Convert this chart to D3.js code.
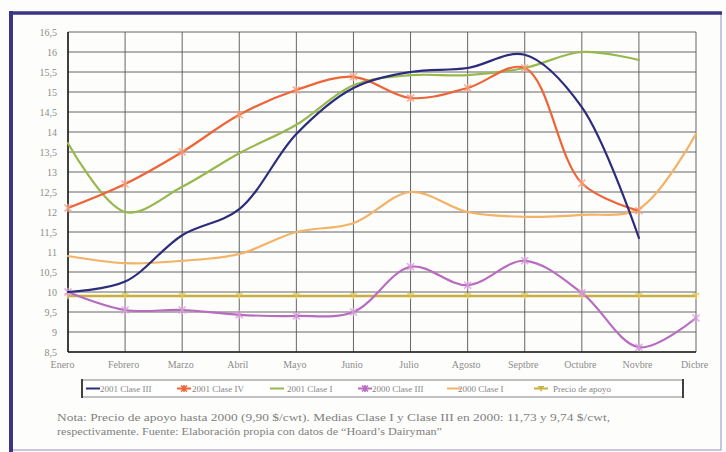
<!DOCTYPE html>
<html>
<head>
<meta charset="utf-8">
<script src="https://cdn.jsdelivr.net/npm/d3@7"></script>
<style>
  html, body { margin: 0; padding: 0; background: #fdfdfb; }
  svg { display: block; }
  text { font-family: "Liberation Serif", "Times New Roman", serif; }
</style>
</head>
<body>
<svg id="chart" width="726" height="452"></svg>
<script>
// Months on the horizontal axis
const months = ["Enero", "Febrero", "Marzo", "Abril", "Mayo", "Junio", "Julio",
                "Agosto", "Septbre", "Octubre", "Novbre", "Dicbre"];

// Milk prices, $/cwt (null = not yet available)
const clase3_2001 = [10.0, 10.26, 11.42, 12.07, 13.95, 15.1, 15.5, 15.6, 15.93, 14.62, 11.35, null];
const clase4_2001 = [12.1, 12.7, 13.5, 14.43, 15.05, 15.38, 14.85, 15.1, 15.6, 12.72, 12.03, null];
const clase1_2001 = [13.72, 12.0, 12.63, 13.47, 14.18, 15.17, 15.42, 15.42, 15.6, 16.0, 15.8, null];
const clase3_2000 = [10.0, 9.55, 9.55, 9.43, 9.4, 9.5, 10.63, 10.17, 10.78, 9.98, 8.62, 9.35];
const clase1_2000 = [10.9, 10.72, 10.78, 10.95, 11.5, 11.72, 12.5, 12.0, 11.88, 11.93, 12.08, 13.95];
const apoyo       = [9.9, 9.9, 9.9, 9.9, 9.9, 9.9, 9.9, 9.9, 9.9, 9.9, 9.9, 9.9];

const yTicks = [8.5, 9, 9.5, 10, 10.5, 11, 11.5, 12, 12.5, 13, 13.5, 14, 14.5, 15, 15.5, 16, 16.5];

const seriesNames = ["2001 Clase III", "2001 Clase IV", "2001 Clase I",
                     "2000 Clase III", "2000 Clase I", "Precio de apoyo"];

const notaLinea1 = "Nota: Precio de apoyo hasta 2000 (9,90 $/cwt). Medias Clase I y Clase III en 2000: 11,73 y 9,74 $/cwt,";
const notaLinea2 = "respectivamente. Fuente: Elaboración propia con datos de \u201CHoard\u2019s Dairyman\u201D";

const series = [
  { name: seriesNames[0], values: clase3_2001, color: "#2c2c7c", width: 2.2, marker: null },
  { name: seriesNames[1], values: clase4_2001, color: "#ee6438", width: 2.2, marker: "star", mcolor: "#f5a080" },
  { name: seriesNames[2], values: clase1_2001, color: "#97b84c", width: 2.2, marker: null },
  { name: seriesNames[3], values: clase3_2000, color: "#b86cbf", width: 2.2, marker: "star", mcolor: "#d9a0dc" },
  { name: seriesNames[4], values: clase1_2000, color: "#f3b266", width: 2.2, marker: null },
  { name: seriesNames[5], values: apoyo,       color: "#c8b040", width: 2.6, marker: "tee", mcolor: "#e8d060" }
];

const svg = d3.select("#chart");

// Outer frame
svg.append("rect").attr("x", 11).attr("y", 13).attr("width", 710).attr("height", 437)
  .attr("fill", "none").attr("stroke", "#a4a4cc").attr("stroke-width", 1.2);
svg.append("line").attr("x1", 11).attr("x2", 722).attr("y1", 13).attr("y2", 13)
  .attr("stroke", "#3b3585").attr("stroke-width", 3.5);
svg.append("line").attr("x1", 11).attr("x2", 11).attr("y1", 11).attr("y2", 452)
  .attr("stroke", "#3b3585").attr("stroke-width", 4);

const plotLeft = 68, plotRight = 696, plotTop = 32, plotBottom = 352;

const x = d3.scalePoint().domain(months).range([plotLeft, plotRight]);
const y = d3.scaleLinear().domain([8.5, 16.5]).range([plotBottom, plotTop]);

const fmt = v => String(v).replace(".", ",");

// Gridlines
const grid = svg.append("g");
grid.selectAll("line.h").data(yTicks).join("line").attr("class", "h")
  .attr("x1", plotLeft).attr("x2", plotRight)
  .attr("y1", d => y(d)).attr("y2", d => y(d))
  .attr("stroke", "#555").attr("stroke-width", 0.9);
grid.selectAll("line.v").data(months).join("line").attr("class", "v")
  .attr("x1", d => x(d)).attr("x2", d => x(d))
  .attr("y1", plotTop).attr("y2", plotBottom)
  .attr("stroke", "#555").attr("stroke-width", 0.9);
// Axis lines
grid.append("line").attr("x1", plotLeft).attr("x2", plotLeft).attr("y1", plotTop).attr("y2", plotBottom)
  .attr("stroke", "#222").attr("stroke-width", 1.6);
grid.append("line").attr("x1", plotLeft).attr("x2", plotRight).attr("y1", plotBottom).attr("y2", plotBottom)
  .attr("stroke", "#222").attr("stroke-width", 1.6);

// Y axis labels
const yAxis = d3.axisLeft(y).tickValues(yTicks).tickSize(0).tickPadding(11).tickFormat(fmt);
const gy = svg.append("g").attr("transform", `translate(${plotLeft},0)`).call(yAxis);
gy.select(".domain").remove();
gy.selectAll("text").attr("font-size", 10).attr("fill", "#8c8c8c")
  .attr("font-family", "Liberation Serif, serif");

// X axis labels
const xAxis = d3.axisBottom(x).tickSize(0).tickPadding(9);
const gx = svg.append("g").attr("transform", `translate(0,${plotBottom})`).call(xAxis);
gx.select(".domain").remove();
gx.selectAll("text").attr("font-size", 10).attr("fill", "#8c8c8c")
  .attr("font-family", "Liberation Serif, serif")
  .attr("dx", (d, i) => i === 0 ? -6 : -2);

// Smoothed series lines (centripetal Catmull-Rom keeps overshoot moderate)
const line = d3.line()
  .defined(d => d.v !== null)
  .x(d => x(d.m))
  .y(d => y(d.v))
  .curve(d3.curveCatmullRom.alpha(0.5));

const plot = svg.append("g");

function drawMarker(g, type, cx, cy, color, s) {
  if (type === "star") {
    g.append("path")
      .attr("d", `M${cx - s},${cy - s}L${cx + s},${cy + s}M${cx - s},${cy + s}L${cx + s},${cy - s}M${cx},${cy - s * 1.2}L${cx},${cy + s * 1.2}`)
      .attr("stroke", color).attr("stroke-width", 1.6).attr("fill", "none");
  } else if (type === "tee") {
    g.append("path")
      .attr("d", `M${cx - s},${cy - s * 0.6}L${cx + s},${cy - s * 0.6}M${cx},${cy - s * 0.6}L${cx},${cy + s * 0.9}`)
      .attr("stroke", color).attr("stroke-width", 1.6).attr("fill", "none");
  }
}

// Draw order: support price first, then 2000 series, then 2001
[5, 4, 3, 2, 1, 0].forEach(i => {
  const s = series[i];
  const pts = months.map((m, j) => ({ m, v: s.values[j] }));
  plot.append("path").datum(pts)
    .attr("d", line)
    .attr("fill", "none")
    .attr("stroke", s.color)
    .attr("stroke-width", s.width)
    .attr("stroke-linejoin", "round")
    .attr("stroke-linecap", "round");
  if (s.marker) {
    const mg = plot.append("g").attr("opacity", 0.85);
    pts.filter(p => p.v !== null).forEach(p => drawMarker(mg, s.marker, x(p.m), y(p.v), s.mcolor, 3.5));
  }
});

// Legend
const legend = svg.append("g");
legend.append("rect").attr("x", 82).attr("y", 380).attr("width", 601).attr("height", 17)
  .attr("fill", "#fff").attr("stroke", "#777").attr("stroke-width", 0.9);
legend.append("line").attr("x1", 82).attr("x2", 82).attr("y1", 379).attr("y2", 398)
  .attr("stroke", "#333").attr("stroke-width", 1.8);
legend.append("line").attr("x1", 683).attr("x2", 683).attr("y1", 379).attr("y2", 398)
  .attr("stroke", "#333").attr("stroke-width", 1.8);

const legX = [86, 177, 270, 358, 447, 534];
const legTextX = [100, 192, 287, 372, 458, 553];
series.forEach((s, i) => {
  const ly = 388.5;
  legend.append("line").attr("x1", legX[i]).attr("x2", legX[i] + 14)
    .attr("y1", ly).attr("y2", ly)
    .attr("stroke", s.color).attr("stroke-width", 2);
  if (s.marker) drawMarker(legend, s.marker, legX[i] + 7, ly, s.color, 3);
  legend.append("text").attr("x", legTextX[i]).attr("y", ly + 3.2)
    .attr("font-size", 9).attr("fill", "#858585").text(s.name);
});

// Note below the chart
svg.append("text").attr("x", 57).attr("y", 421).attr("font-size", 10.5).attr("fill", "#808080")
  .attr("textLength", 553).attr("lengthAdjust", "spacingAndGlyphs").text(notaLinea1);
svg.append("text").attr("x", 57).attr("y", 435).attr("font-size", 10.5).attr("fill", "#808080")
  .attr("textLength", 385).attr("lengthAdjust", "spacingAndGlyphs").text(notaLinea2);
</script>
</body>
</html>
